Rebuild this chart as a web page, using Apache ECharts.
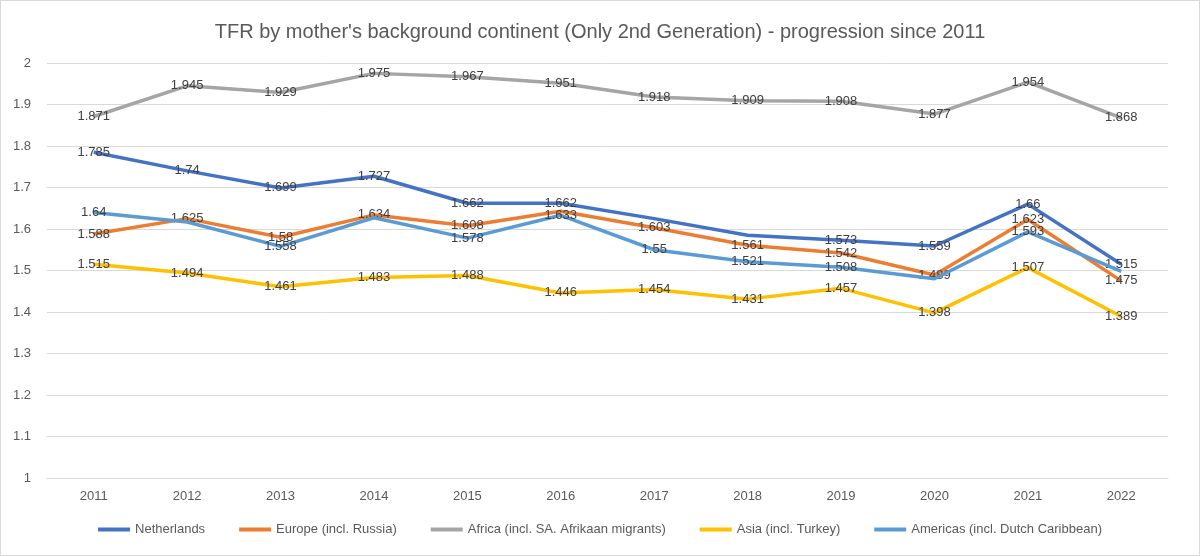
<!DOCTYPE html>
<html>
<head>
<meta charset="utf-8">
<script src="https://cdn.jsdelivr.net/npm/echarts@6/dist/echarts.min.js"></script>
<style>
html,body{margin:0;padding:0;background:#fff;}
#c{width:1200px;height:556px;box-sizing:border-box;border:1px solid #d9d9d9;}
</style>
</head>
<body>
<div id="c"></div>
<script>
const years = ['2011','2012','2013','2014','2015','2016','2017','2018','2019','2020','2021','2022'];
const netherlands = [1.785,1.74,1.699,1.727,1.662,1.662,1.625,1.585,1.573,1.559,1.66,1.515];
const europe      = [1.588,1.625,1.58,1.634,1.608,1.643,1.603,1.561,1.542,1.489,1.623,1.475];
const africa      = [1.871,1.945,1.929,1.975,1.967,1.951,1.918,1.909,1.908,1.877,1.954,1.868];
const asia        = [1.515,1.494,1.461,1.483,1.488,1.446,1.454,1.431,1.457,1.398,1.507,1.389];
const americas    = [1.64,1.617,1.558,1.627,1.578,1.633,1.55,1.521,1.508,1.48,1.593,1.498];
// indices whose value labels are not visible in the reference
const hiddenNL = [6,7];
const hiddenEU = [5];
const hiddenAF = [];
const hiddenAS = [];
const hiddenAM = [1,3,9,11];
const seriesNames = ['Netherlands','Europe (incl. Russia)','Africa (incl. SA. Afrikaan migrants)','Asia (incl. Turkey)','Americas (incl. Dutch Caribbean)'];
const colors = ['#4472C4','#ED7D31','#A5A5A5','#FFC000','#5B9BD5'];

const font = '"Liberation Sans",Arial,sans-serif';
function build(vals, hidden){
  return vals.map((v,i)=> hidden.includes(i) ? {value:v,label:{show:false}} : v);
}
const allData = [[netherlands,hiddenNL],[europe,hiddenEU],[africa,hiddenAF],[asia,hiddenAS],[americas,hiddenAM]];
const chart = echarts.init(document.getElementById('c'));
chart.setOption({
  animation:false,
  color: colors,
  title:{text:"TFR by mother's background continent (Only 2nd Generation) - progression since 2011",
    left:'center', top:16, textStyle:{fontFamily:font,fontSize:20,fontWeight:'normal',color:'#595959'}},
  grid:{left:46,right:31,top:62,bottom:77},
  legend:{bottom:14,left:'center',itemWidth:32,itemHeight:4,itemGap:34,icon:'rect',
    textStyle:{fontFamily:font,fontSize:13,color:'#595959'},
    data:seriesNames.map((n,k)=>({name:n,itemStyle:{color:colors[k],opacity:1}}))},
  xAxis:{type:'category',data:years,boundaryGap:true,
    axisLine:{lineStyle:{color:'#d9d9d9'}},axisTick:{show:false},
    axisLabel:{fontFamily:font,fontSize:13,color:'#595959',margin:12}},
  yAxis:{type:'value',min:1,max:2,interval:0.1,
    axisLine:{show:false},axisTick:{show:false},
    splitLine:{lineStyle:{color:'#d9d9d9',width:1}},
    axisLabel:{fontFamily:font,fontSize:13,color:'#595959',margin:16,
      formatter:v=>String(Math.round(v*10)/10)}},
  series: allData.map((d,k)=>({
    name:seriesNames[k],type:'line',data:build(d[0],d[1]),
    symbol:'circle',symbolSize:1,showSymbol:true,
    itemStyle:{color:'rgba(0,0,0,0)',borderWidth:0},
    lineStyle:{width:3.5,color:colors[k]},
    label:{show:true,position:'inside',fontFamily:font,fontSize:13,color:'#404040',
      formatter:p=>String(p.value)},
    labelLayout:{hideOverlap:false},
    emphasis:{disabled:true},
    z:k
  }))
});
</script>
</body>
</html>
